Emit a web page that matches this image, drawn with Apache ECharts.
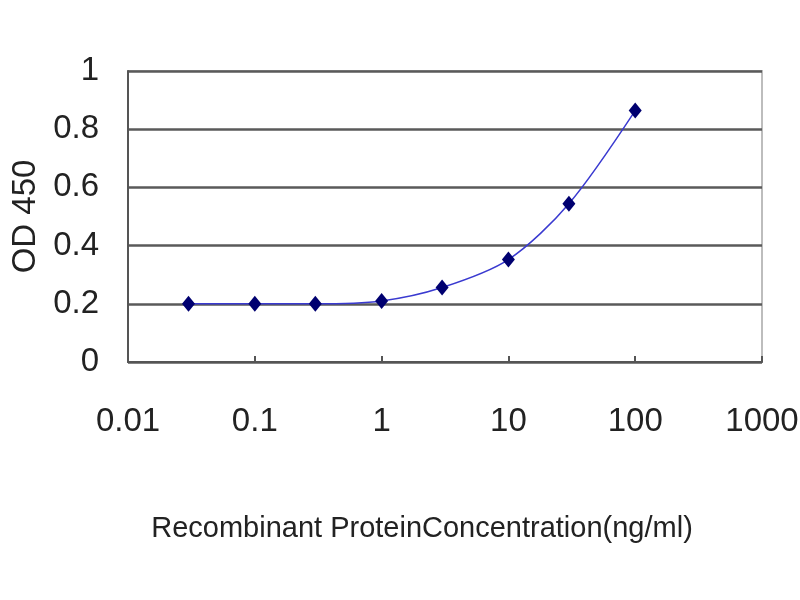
<!DOCTYPE html>
<html>
<head>
<meta charset="utf-8">
<script src="https://cdn.jsdelivr.net/npm/echarts@6/dist/echarts.min.js"></script>
<style>html,body{margin:0;padding:0;background:#fff;}#c{width:800px;height:600px;}</style>
</head>
<body>
<div id="c"></div>
<script>
var concentrations = [0.03, 0.1, 0.3, 1, 3, 10, 30, 100];
var odValues = [0.20, 0.20, 0.20, 0.21, 0.256, 0.352, 0.544, 0.864];
var xTickLabels = ['0.01', '0.1', '1', '10', '100', '1000'];
var yTickLabels = ['0', '0.2', '0.4', '0.6', '0.8', '1'];
var xAxisTitle = 'Recombinant ProteinConcentration(ng/ml)';
var yAxisTitle = 'OD 450';

var points = concentrations.map(function (c, i) { return [c, odValues[i]]; });
var font = 'Liberation Sans, Arial, sans-serif';

var chart = echarts.init(document.getElementById('c'));
chart.setOption({
  backgroundColor: '#fff',
  animation: false,
  grid: { left: 128, right: 38, top: 71, bottom: 238, show: true, borderColor: '#bdbdbd', borderWidth: 2, backgroundColor: 'transparent', outerBoundsMode: 'none', containLabel: false },
  xAxis: {
    type: 'log', logBase: 10, min: 0.01, max: 1000,
    name: xAxisTitle, nameLocation: 'middle', nameGap: 152,
    nameTextStyle: { fontSize: 29, color: '#222', fontFamily: font, padding: [0, 46, 0, 0] },
    axisLine: { show: true, lineStyle: { color: '#555', width: 2 } },
    axisTick: { show: true, inside: true, length: 6, lineStyle: { color: '#555', width: 2 } },
    minorTick: { show: false },
    splitLine: { show: false },
    axisLabel: {
      margin: 43, fontSize: 33, color: '#222', fontFamily: font,
      formatter: function (v) {
        var idx = Math.round(Math.log10(v)) + 2;
        return xTickLabels[idx] !== undefined ? xTickLabels[idx] : '';
      }
    }
  },
  yAxis: {
    type: 'value', min: 0, max: 1, interval: 0.2,
    name: yAxisTitle, nameLocation: 'middle', nameGap: 86, nameRotate: 90,
    nameTextStyle: { fontSize: 33, color: '#222', fontFamily: font },
    axisLine: { show: true, lineStyle: { color: '#555', width: 2 } },
    axisTick: { show: false },
    splitLine: { show: true, lineStyle: { color: '#5a5a5a', width: 2.5 } },
    axisLabel: {
      margin: 29, fontSize: 33, color: '#222', fontFamily: font, padding: [0, 0, 8, 0],
      formatter: function (v) {
        var idx = Math.round(v / 0.2);
        return yTickLabels[idx] !== undefined ? yTickLabels[idx] : '';
      }
    }
  },
  series: [{
    type: 'line',
    data: points,
    smooth: 0.3,
    symbol: 'diamond',
    symbolSize: [13, 16],
    itemStyle: { color: '#000070' },
    lineStyle: { color: '#3a3ad0', width: 1.5 },
    z: 5
  }]
});
</script>
</body>
</html>
